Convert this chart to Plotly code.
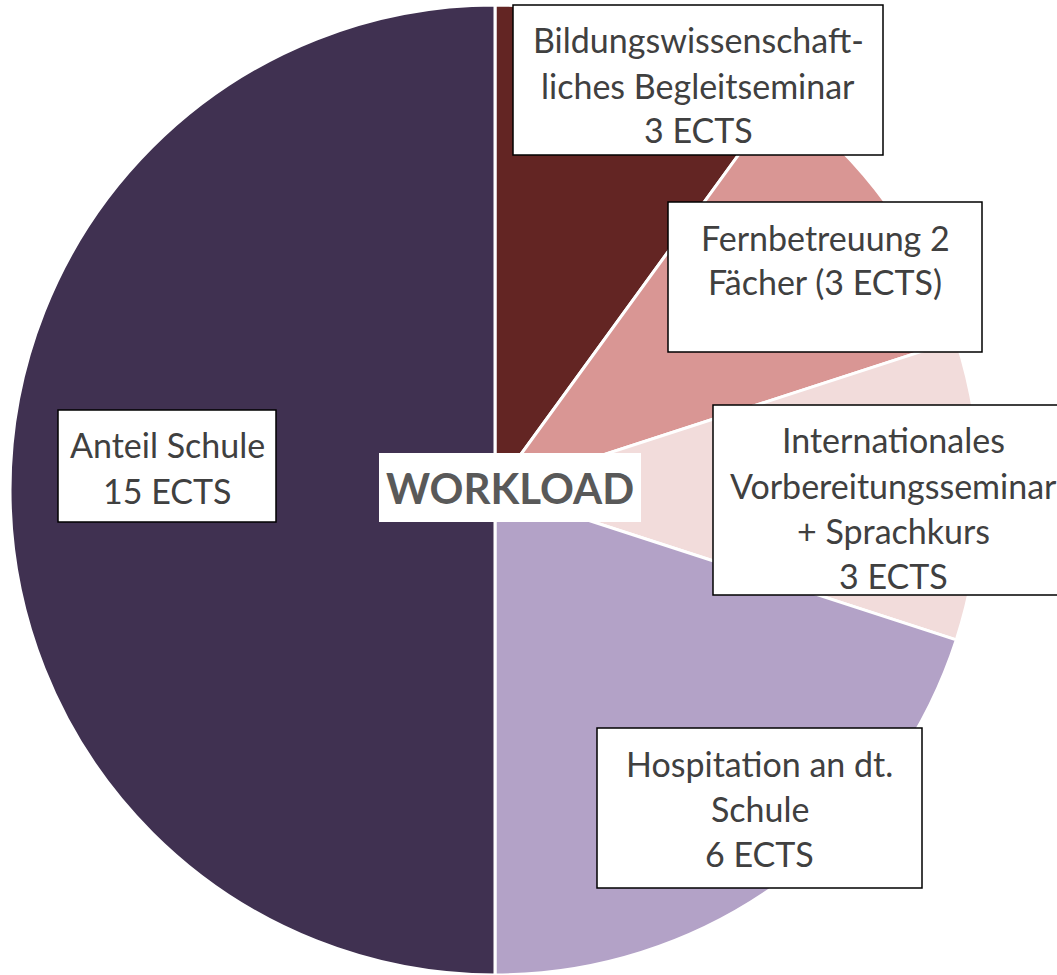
import plotly.graph_objects as go

W, H = 1057, 975

categories = [
    "Bildungswissenschaftliches Begleitseminar",
    "Fernbetreuung 2 Fächer",
    "Internationales Vorbereitungsseminar + Sprachkurs",
    "Hospitation an dt. Schule",
    "Anteil Schule",
]
ects = [3, 3, 3, 6, 15]
colors = ["#632523", "#D99694", "#F2DCDB", "#B3A2C7", "#403151"]

label_lines = [
    ["Bildungswissenschaft-", "liches Begleitseminar", "3 ECTS"],
    ["Fernbetreuung 2", "Fächer (3 ECTS)"],
    ["Internationales", "Vorbereitungsseminar", "+ Sprachkurs", "3 ECTS"],
    ["Hospitation an dt.", "Schule", "6 ECTS"],
    ["Anteil Schule", "15 ECTS"],
]
# label boxes in pixels: (left, top, right, bottom)
label_boxes = [
    (513, 5, 883, 155),
    (668, 202, 982, 352),
    (713, 405, 1073, 595),
    (597, 728, 922, 888),
    (58, 410, 276, 522),
]
center_text = "WORKLOAD"

FONT = "Lato"
FS = 34
LINE = 45
TXT = "#404040"

fig = go.Figure()
fig.add_trace(go.Pie(
    labels=categories,
    values=ects,
    sort=False,
    direction="clockwise",
    rotation=0,
    marker=dict(colors=colors, line=dict(color="white", width=3)),
    textinfo="none",
    hoverinfo="label+value",
    showlegend=False,
    domain=dict(x=[10 / W, 980 / W], y=[0, 1 - 5 / H]),
))

def px(x):
    return x / W

def py(y):
    return 1 - y / H

shapes = []
annotations = []
for lines, (l, t, r, b) in zip(label_lines, label_boxes):
    shapes.append(dict(type="rect", xref="paper", yref="paper",
                       x0=px(l), x1=px(r), y0=py(b), y1=py(t),
                       fillcolor="white", line=dict(color="black", width=1.5),
                       layer="above"))
    cx = (l + r) / 2
    for i, ln in enumerate(lines):
        yc = t + 35 + i * LINE
        annotations.append(dict(xref="paper", yref="paper", x=px(cx), y=py(yc),
                                text=ln, showarrow=False, xanchor="center", yanchor="middle",
                                font=dict(family=FONT, size=FS, color=TXT)))

# center label
shapes.append(dict(type="rect", xref="paper", yref="paper",
                   x0=px(379), x1=px(641), y0=py(522), y1=py(453),
                   fillcolor="white", line=dict(width=0), layer="above"))
annotations.append(dict(xref="paper", yref="paper", x=px(510), y=py(488),
                        text="<b>" + center_text + "</b>", showarrow=False,
                        xanchor="center", yanchor="middle",
                        font=dict(family=FONT, size=42, color="#595959")))

fig.update_layout(
    width=W, height=H,
    margin=dict(l=0, r=0, t=0, b=0),
    paper_bgcolor="white",
    plot_bgcolor="white",
    shapes=shapes,
    annotations=annotations,
)

fig.write_html("out.html", config={"displayModeBar": False},
               post_script="document.body.style.margin='0';document.body.style.overflow='hidden';")
